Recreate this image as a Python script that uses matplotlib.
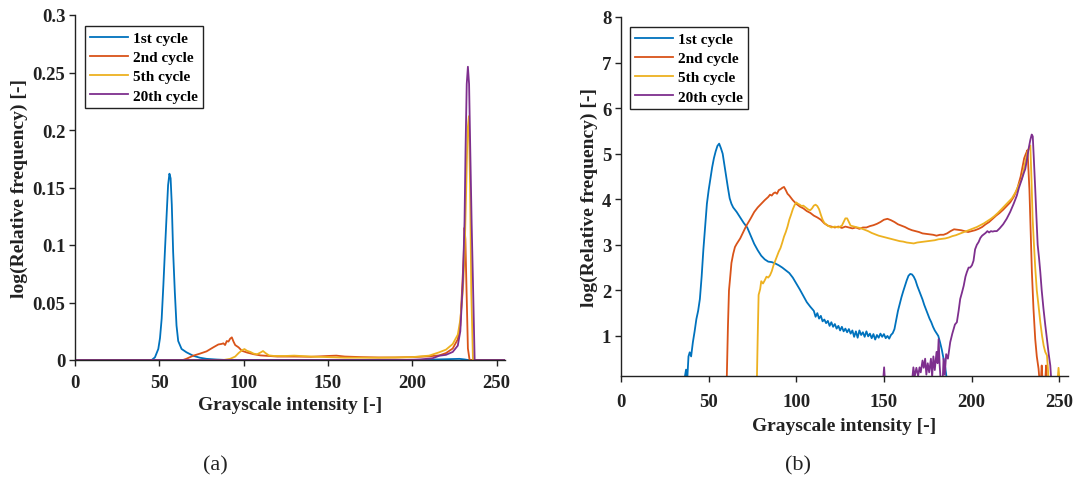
import numpy as np
import matplotlib
matplotlib.use("Agg")
import matplotlib.pyplot as plt
from matplotlib.ticker import FuncFormatter

# ---------------- data ----------------
series_labels = ["1st cycle", "2nd cycle", "5th cycle", "20th cycle"]
series_colors = ["#0072BD", "#D95319", "#EDB120", "#7E2F8E"]
x_ticks = [0, 50, 100, 150, 200, 250]
a_y_ticks = [0, 0.05, 0.1, 0.15, 0.2, 0.25, 0.3]
b_y_ticks = [1, 2, 3, 4, 5, 6, 7, 8]

# (a) relative frequency
a_x1 = [0, 44, 45.5, 47.4, 49.4, 50.4, 51.4, 52.4, 53.3, 54.3, 55.2, 56.0, 56.7, 57.4, 58.2, 59.2, 60.2, 61.2, 63.2, 66.1, 70.1, 74, 78, 84, 90, 200, 215, 228, 231, 233, 255]
a_y1 = [0, 0, 0, 0.0023, 0.0096, 0.019, 0.036, 0.065, 0.094, 0.125, 0.152, 0.162, 0.158, 0.135, 0.094, 0.059, 0.03, 0.0165, 0.0096, 0.0067, 0.0037, 0.002, 0.001, 0.0004, 0, 0, 0.0005, 0.001, 0.0005, 0, 0]

a_x2 = [0, 64, 66, 70, 74, 78, 82, 85, 87, 88, 89, 90, 91, 92, 93, 94, 95, 97, 99, 102, 106, 110, 115, 120, 130, 140, 150, 155, 160, 170, 180, 190, 200, 210, 216, 220, 224, 227, 228.5, 229.5, 230.5, 231, 231.5, 232.2, 233, 234, 255]
a_y2 = [0, 0, 0.001, 0.0037, 0.0055, 0.0075, 0.011, 0.0135, 0.014, 0.0145, 0.013, 0.0165, 0.016, 0.0185, 0.0197, 0.016, 0.013, 0.011, 0.008, 0.0065, 0.005, 0.004, 0.0035, 0.003, 0.003, 0.0028, 0.0035, 0.0038, 0.003, 0.0025, 0.0022, 0.0022, 0.0025, 0.0032, 0.004, 0.006, 0.01, 0.018, 0.03, 0.06, 0.09, 0.115, 0.105, 0.06, 0.01, 0, 0]

a_x3 = [0, 88, 92, 95, 97, 99, 100.5, 102, 104, 106, 108, 110, 111.5, 113, 115, 118, 125, 130, 140, 150, 160, 170, 180, 190, 200, 210, 216, 220, 224, 227, 228.5, 230, 231, 232, 232.8, 233.6, 234.3, 235, 236, 255]
a_y3 = [0, 0, 0.001, 0.003, 0.006, 0.0085, 0.0095, 0.008, 0.007, 0.0055, 0.005, 0.0065, 0.0078, 0.006, 0.004, 0.0035, 0.0035, 0.0038, 0.003, 0.0025, 0.002, 0.002, 0.002, 0.0022, 0.0025, 0.0038, 0.0067, 0.009, 0.0139, 0.022, 0.035, 0.06, 0.09, 0.15, 0.2, 0.212, 0.15, 0.06, 0, 0]

a_x4 = [0, 195, 205, 212, 216, 220, 224, 227, 228.5, 230, 231, 231.6, 232.3, 233, 233.7, 234.4, 235.2, 236, 237, 255]
a_y4 = [0, 0, 0.0005, 0.0015, 0.0037, 0.0045, 0.007, 0.0125, 0.025, 0.068, 0.12, 0.183, 0.24, 0.255, 0.24, 0.183, 0.12, 0.068, 0, 0]

# (b) log(relative frequency)
b_x1 = [36, 37.1, 37.8, 38.5, 39.2, 40, 41, 42, 43, 44, 45, 46, 47, 48, 49, 50, 51, 52, 53, 54, 55, 56, 57, 58, 59, 60, 61, 62, 63, 64, 66, 68, 70, 72, 74, 76, 78, 80, 82, 84, 86, 88, 90, 92, 94, 96, 98, 100, 102, 104, 106, 108, 110, 111, 112, 113, 114, 115, 116, 117, 118, 119, 120, 121, 122, 123, 124, 125, 126, 127, 128, 129, 130, 131, 132, 133, 134, 135, 136, 137, 138, 139, 140, 141, 142, 143, 144, 145, 146, 147, 148, 149, 150, 151, 152, 153, 154, 155, 156, 157, 158, 159, 160, 161, 162, 163, 164, 165, 166, 167, 168, 169, 170, 171, 172, 173, 174, 175, 176, 177, 178, 179, 180, 181, 182, 183, 184, 185, 186]
b_y1 = [0, 0.26, 0.05, 0.55, 0.64, 0.55, 0.86, 1.1, 1.37, 1.55, 1.81, 2.3, 2.9, 3.4, 3.9, 4.2, 4.45, 4.7, 4.9, 5.05, 5.17, 5.22, 5.12, 5.0, 4.75, 4.5, 4.25, 4.02, 3.9, 3.82, 3.72, 3.6, 3.48, 3.38, 3.2, 3.02, 2.88, 2.76, 2.68, 2.63, 2.62, 2.59, 2.55, 2.5, 2.44, 2.38, 2.28, 2.15, 2.02, 1.88, 1.74, 1.64, 1.55, 1.42, 1.5, 1.38, 1.44, 1.32, 1.36, 1.28, 1.33, 1.22, 1.3, 1.2, 1.26, 1.16, 1.22, 1.12, 1.2, 1.1, 1.16, 1.08, 1.15, 1.05, 1.12, 0.98, 1.1, 0.96, 1.12, 1.02, 1.08, 0.98, 1.1, 0.99, 1.05, 0.95, 1.04, 0.92, 1.02, 0.96, 1.05, 0.98, 1.04, 0.95, 1.0, 0.94, 1.02, 1.06, 1.15, 1.35, 1.55, 1.7, 1.85, 1.98, 2.1, 2.22, 2.32, 2.36, 2.35, 2.3, 2.22, 2.1, 2.0, 1.9, 1.8, 1.68, 1.58, 1.48, 1.38, 1.3, 1.2, 1.12, 1.06, 1.0, 0.86, 0.7, 0.5, 0.3, 0.0]

b_x2 = [60.3, 61, 61.6, 62.2, 63, 64, 65, 66, 67, 68, 69, 70, 71, 72, 74, 76, 78, 80, 82, 84, 85, 86, 87, 88, 89, 90, 91, 92, 93, 94, 95, 96, 98, 100, 102, 104, 106, 108, 110, 112, 114, 116, 118, 120, 122, 124, 126, 128, 130, 132, 134, 136, 138, 140, 142, 144, 146, 148, 150, 152, 154, 156, 158, 160, 162, 164, 166, 168, 170, 172, 174, 176, 178, 180, 182, 184, 186, 188, 190, 192, 194, 196, 198, 200, 202, 204, 206, 208, 210, 212, 214, 216, 218, 220, 222, 224, 226, 228, 229, 230, 231, 231.9, 232.5, 233, 233.7, 234.4, 235.3, 236.3, 237.2, 238.2, 238.8, 239.5, 240, 240.5, 242, 242.5, 243]
b_y2 = [0, 1.2, 2.0, 2.25, 2.6, 2.8, 2.95, 3.02, 3.08, 3.14, 3.22, 3.3, 3.38, 3.45, 3.58, 3.72, 3.82, 3.9, 3.98, 4.05, 4.1, 4.08, 4.13, 4.15, 4.12, 4.2, 4.22, 4.25, 4.27, 4.2, 4.12, 4.08, 3.98, 3.9, 3.84, 3.8, 3.74, 3.7, 3.64, 3.6, 3.55, 3.47, 3.42, 3.4, 3.38, 3.4, 3.37, 3.4, 3.38, 3.36, 3.38, 3.35, 3.38, 3.38, 3.41, 3.43, 3.46, 3.5, 3.55, 3.57, 3.54, 3.5, 3.45, 3.42, 3.39, 3.35, 3.32, 3.3, 3.28, 3.25, 3.24, 3.23, 3.22, 3.2, 3.22, 3.22, 3.25, 3.3, 3.34, 3.33, 3.32, 3.3, 3.28, 3.3, 3.32, 3.35, 3.39, 3.45, 3.5, 3.57, 3.64, 3.7, 3.77, 3.85, 3.93, 4.05, 4.22, 4.5, 4.7, 4.9, 5.0, 5.08, 4.6, 4.2, 3.3, 2.4, 1.6, 0.93, 0.55, 0.28, 0.0, 0.0, 0.35, 0.0, 0.0, 0.35, 0.0]

b_x3 = [77.5, 78, 78.5, 79.4, 80, 81, 82, 83, 84, 85, 86, 87, 88, 89, 90, 91, 92, 93, 94, 95, 96, 97, 98, 99, 100, 101, 102, 103, 104, 105, 106, 107, 108, 109, 110, 111, 112, 113, 114, 115, 116, 118, 120, 122, 124, 126, 127, 128, 129, 130, 131, 133, 135, 137, 139, 141, 143, 145, 147, 149, 151, 153, 155, 157, 159, 161, 163, 165, 167, 169, 171, 173, 175, 177, 179, 181, 183, 185, 187, 189, 191, 193, 195, 197, 199, 201, 203, 205, 207, 209, 211, 213, 215, 217, 219, 221, 223, 225, 227, 228.7, 230, 231, 231.9, 232.7, 233.5, 234.2, 234.8, 235.4, 236.3, 237.2, 238.2, 239.2, 240.2, 241.1, 242, 243, 243.5, 244, 249, 249.6, 250.2]
b_y3 = [0, 1.0, 1.9, 2.03, 2.2, 2.15, 2.22, 2.3, 2.28, 2.33, 2.42, 2.55, 2.65, 2.75, 2.85, 2.93, 3.05, 3.18, 3.28, 3.4, 3.55, 3.66, 3.78, 3.87, 3.93, 3.9, 3.88, 3.85, 3.86, 3.83, 3.8, 3.77, 3.76, 3.8, 3.86, 3.88, 3.85, 3.78, 3.66, 3.55, 3.48, 3.42, 3.38, 3.4, 3.38, 3.42, 3.5, 3.58, 3.58, 3.5, 3.42, 3.4, 3.38, 3.36, 3.33, 3.3, 3.26, 3.23, 3.2, 3.18, 3.16, 3.14, 3.12, 3.1, 3.08, 3.07, 3.05, 3.04, 3.03, 3.05, 3.06, 3.07, 3.08, 3.09, 3.1, 3.12, 3.13, 3.14, 3.16, 3.19, 3.21, 3.24, 3.27, 3.3, 3.33, 3.36, 3.39, 3.43, 3.47, 3.52, 3.57, 3.63, 3.7, 3.78, 3.86, 3.94, 4.02, 4.15, 4.32, 4.45, 4.7, 4.88, 5.03, 5.12, 5.18, 4.4, 3.6, 3.13, 2.5, 2.0, 1.66, 1.3, 1.0, 0.79, 0.65, 0.57, 0.3, 0.0, 0.0, 0.3, 0.0]

b_x4 = [149.5, 150.1, 150.6, 166, 166.8, 167.5, 168.5, 169.5, 170.3, 171, 172, 172.7, 173.5, 174.2, 175, 175.8, 176.8, 177.5, 178.2, 179, 180, 180.6, 181.2, 181.8, 182.4, 183.5, 184, 184.7, 185.5, 186.5, 187.8, 189, 190.5, 191.6, 192.6, 193.5, 194.5, 195.5, 196.5, 197.3, 198.3, 199.2, 200.2, 201.1, 202, 203, 204, 205, 206, 207, 208, 209, 210, 211, 212, 213, 214.4, 216, 218, 220, 222, 224, 225.8, 227, 228.5, 230, 230.6, 231.5, 232.5, 233.5, 234.3, 234.9, 235.5, 236.3, 237, 237.7, 238.5, 239.2, 240, 241, 242, 243, 244, 244.9, 245.5]
b_y4 = [0, 0.31, 0, 0, 0.31, 0.1, 0.3, 0.12, 0.31, 0.2, 0.46, 0.3, 0.5, 0.15, 0.4, 0.2, 0.5, 0.1, 0.55, 0.25, 0.65, 0.4, 0.93, 0.35, 0.0, 0.0, 0.5, 0.15, 0.6, 0.5, 0.86, 1.05, 1.25, 1.3, 1.55, 1.81, 1.95, 2.1, 2.3, 2.4, 2.5, 2.5, 2.55, 2.65, 2.9, 3.0, 3.06, 3.15, 3.2, 3.23, 3.26, 3.3, 3.27, 3.3, 3.29, 3.3, 3.3, 3.36, 3.45, 3.57, 3.72, 3.9, 4.08, 4.25, 4.42, 4.6, 4.66, 4.85, 5.1, 5.3, 5.42, 5.38, 4.9, 4.23, 3.6, 3.0, 2.7, 2.4, 2.0, 1.6, 1.25, 0.93, 0.6, 0.35, 0.0]

# ---------------- style ----------------
plt.rcParams['font.family'] = ['Liberation Serif', 'DejaVu Serif']
plt.rcParams['font.weight'] = 'bold'
plt.rcParams['axes.labelweight'] = 'bold'

W, H = 1075, 481
fig = plt.figure(figsize=(W / 100, H / 100), dpi=100)
fig.patch.set_facecolor('white')


def px_axes(l, t, r, b):
    return fig.add_axes([l / W, 1 - b / H, (r - l) / W, (b - t) / H])


ax1 = px_axes(75, 16, 505, 361)
ax2 = px_axes(621, 18, 1068, 377)

fmt = FuncFormatter(lambda v, p: ('%g' % v))

a_data = [(a_x1, a_y1), (a_x2, a_y2), (a_x3, a_y3), (a_x4, a_y4)]
b_data = [(b_x1, b_y1), (b_x2, b_y2), (b_x3, b_y3), (b_x4, b_y4)]

for ax, data, yt, ylim, xpad, xlp in [(ax1, a_data, a_y_ticks, (0, 0.3), 6, 4),
                                       (ax2, b_data, b_y_ticks, (0.12, 8), 8, 5)]:
    for (xs, ys), c, lab in zip(data, series_colors, series_labels):
        ax.plot(xs, ys, color=c, lw=1.3, label=lab)
    ax.set_xlim(0, 255)
    ax.set_ylim(*ylim)
    ax.set_xticks(x_ticks)
    ax.set_yticks(yt)
    ax.yaxis.set_major_formatter(fmt)
    for s in ['top', 'right']:
        ax.spines[s].set_visible(False)
    for s in ['left', 'bottom']:
        ax.spines[s].set_linewidth(1.0)
        ax.spines[s].set_color('#222222')
    ax.tick_params(direction='out', length=4, width=1.0, labelsize=13.5,
                   colors='#222222', pad=3)
    ax.tick_params(axis='x', pad=xpad)
    for lbl in ax.get_xticklabels() + ax.get_yticklabels():
        lbl.set_fontweight('bold')
    ax.set_xlabel('Grayscale intensity [-]', fontsize=14, fontweight='bold', labelpad=xlp, color='#222222')
    ax.set_ylabel('log(Relative frequency) [-]', fontsize=14, fontweight='bold', labelpad=3, color='#222222')

leg_kw = dict(loc='upper left', fancybox=False, framealpha=1, edgecolor='#222222',
              prop={'family': 'Liberation Serif', 'weight': 'bold', 'size': 11},
              handlelength=2.5, handletextpad=0.3, borderpad=0.35, labelspacing=0.36,
              borderaxespad=0)
l1 = ax1.legend(bbox_to_anchor=(0.023, 0.968), **leg_kw)
l2 = ax2.legend(bbox_to_anchor=(0.02, 0.972), **leg_kw)
for l in (l1, l2):
    l.get_frame().set_linewidth(1.0)

fig.text(215 / W, 1 - 466 / H, '(a)', ha='center', va='center', fontsize=16, fontweight='normal', color='#222222')
fig.text(798 / W, 1 - 466 / H, '(b)', ha='center', va='center', fontsize=16, fontweight='normal', color='#222222')

fig.savefig('out.png', dpi=100, facecolor='white')
